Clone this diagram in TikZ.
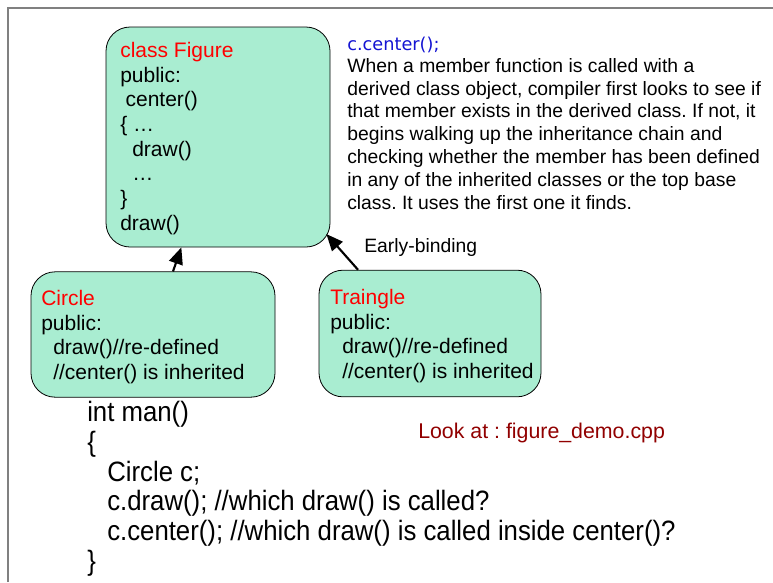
\documentclass[tikz,border=0pt]{standalone}
\usepackage{fontspec}
\setmainfont{Liberation Sans}
\newfontfamily\narrowfont[FakeStretch=0.92]{Liberation Sans}
\newfontfamily\callfont{DejaVu Sans}
\usetikzlibrary{arrows.meta}
\frenchspacing

\definecolor{boxgreen}{RGB}{169,237,209}
\definecolor{callblue}{RGB}{20,20,210}
\definecolor{notered}{RGB}{145,0,0}

\tikzset{
    classbox/.style={draw=black, line width=0.6pt, fill=boxgreen, rounded corners=18pt, inner sep=0pt},
    boxtext/.style={anchor=north west, inner sep=0pt, align=left, font=\fontsize{15.75pt}{18.5pt}\selectfont},
    inherit/.style={line width=1.6pt, -{Triangle[length=12.5pt, width=10.5pt]}}
}

\begin{document}
\begin{tikzpicture}[x=0.75pt, y=-0.75pt]
    \useasboundingbox (0,0) rectangle (773,582);
    % frame
    \draw[line width=1.5pt, color=gray] (8,582) -- (8,8) -- (773,8);

    % base class
    \node[classbox, minimum width=168pt, minimum height=165pt] (figure) at (218,137) {};
    \node[boxtext] (figuretext) at (120,42) {\textcolor{red}{class Figure}\\
        public:\\
        \hspace{4pt}center()\\
        \{ …\\
        \hspace{9pt}draw()\\
        \hspace{9pt}…\\
        \}\\
        draw()};

    % derived classes
    \node[classbox, minimum width=183pt, minimum height=94pt] (circle) at (153,334.5) {};
    \node[boxtext] (circletext) at (41,290) {\textcolor{red}{Circle}\\
        public:\\
        \hspace{9pt}draw()//re-defined\\
        \hspace{9pt}//center() is inherited};

    \node[classbox, minimum width=166.5pt, minimum height=95pt] (triangle) at (430,333.5) {};
    \node[boxtext] (triangletext) at (330,289) {\textcolor{red}{Traingle}\\
        public:\\
        \hspace{9pt}draw()//re-defined\\
        \hspace{9pt}//center() is inherited};

    \draw[inherit] ([xshift=15pt]circle.north) -- ([xshift=-27.5pt]figure.south);
    \draw[inherit] ([xshift=-54pt]triangle.north) -- ([xshift=-3pt, yshift=10pt]figure.south east);
    \node[anchor=base west, inner sep=0pt, font=\fontsize{14.5pt}{17pt}\selectfont] (early) at (364,252) {Early-binding};

    % explanation
    \node[anchor=base west, inner sep=0pt, text=callblue, font=\callfont\fontsize{13.3pt}{16pt}\selectfont] (call) at (347,50) {c.center();};
    \node[anchor=north west, inner sep=0pt, align=left, font=\fontsize{14.5pt}{17.1pt}\selectfont] (explain) at (347,58) {When a member function is called with a\\
        derived class object, compiler first looks to see if\\
        that member exists in the derived class. If not, it\\
        begins walking up the inheritance chain and\\
        checking whether the member has been defined\\
        in any of the inherited classes or the top base\\
        class. It uses the first one it finds.};

    % main
    \node[anchor=north west, inner sep=0pt, align=left, font=\narrowfont\fontsize{21pt}{22.35pt}\selectfont] (code) at (87,401) {int man()\\
        \{\\
        \hspace{15pt}Circle c;\\
        \hspace{15pt}c.draw(); //which draw() is called?\\
        \hspace{15pt}c.center(); //which draw() is called inside center()?\\
        \}};
    \node[anchor=base west, inner sep=0pt, text=notered, font=\fontsize{16pt}{19pt}\selectfont] (lookat) at (418,438) {Look at : figure\_demo.cpp};
\end{tikzpicture}
\end{document}
